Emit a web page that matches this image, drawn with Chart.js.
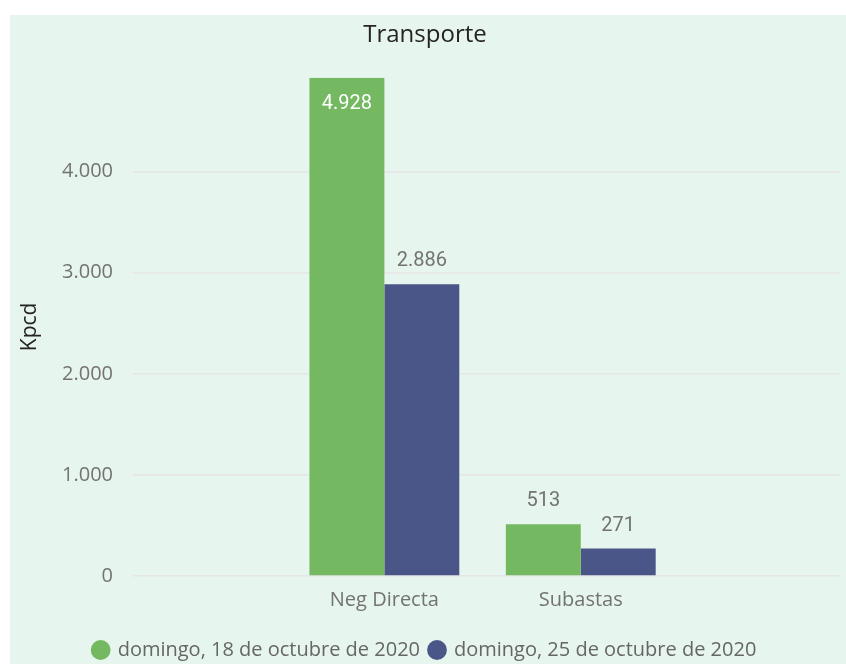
<!DOCTYPE html>
<html lang="es">
<head>
  <meta charset="UTF-8">
  <title>Transporte</title>
  <script src="https://cdn.jsdelivr.net/npm/chart.js"></script>
  <style>
    body { margin: 0; background: #fff; overflow: hidden; }
    .panel { position: absolute; left: 10px; top: 15px; width: 836px; height: 655px; background: #e6f5ed; }
  </style>
</head>
<body>
  <div class="panel"><canvas id="chart" width="836" height="655"></canvas></div>

  <script>
    // datos
    const categorias = ['Neg Directa', 'Subastas'];
    const serie18 = [4928, 513];
    const serie25 = [2886, 271];
    const nombres = ['domingo, 18 de octubre de 2020', 'domingo, 25 de octubre de 2020'];
    const colores = ['#74b862', '#4a5688'];
    const ticksY = [0, 1000, 2000, 3000, 4000];

    // formato con punto de miles
    const fmt = v => String(Math.round(v)).replace(/\B(?=(\d{3})+(?!\d))/g, '.');

    // etiquetas de valor sobre las barras
    const etiquetas = {
      id: 'etiquetas',
      afterDatasetsDraw(chart) {
        const ctx = chart.ctx;
        const top = chart.chartArea.top;
        ctx.save();
        ctx.font = '20px Roboto';
        ctx.textAlign = 'center';
        ctx.textBaseline = 'middle';
        chart.data.datasets.forEach((ds, i) => {
          chart.getDatasetMeta(i).data.forEach((bar, j) => {
            const txt = fmt(ds.data[j].y);
            let y = bar.y - 23;
            if (y - 10 < top) {
              y = bar.y + 26;
              ctx.fillStyle = '#ffffff';
            } else {
              ctx.fillStyle = '#737373';
            }
            ctx.fillText(txt, bar.x, y);
          });
        });
        ctx.restore();
      }
    };

    const toPts = vals => vals.map((v, i) => ({ x: i + 1, y: v }));

    new Chart(document.getElementById('chart'), {
      type: 'bar',
      data: {
        datasets: [
          { label: nombres[0], data: toPts(serie18), backgroundColor: colores[0] },
          { label: nombres[1], data: toPts(serie25), backgroundColor: colores[1] }
        ]
      },
      options: {
        responsive: false,
        animation: false,
        events: [],
        layout: { padding: { left: 0, right: 6, top: 0, bottom: 0 } },
        categoryPercentage: 0.763,
        barPercentage: 1,
        plugins: {
          title: {
            display: true,
            text: 'Transporte',
            color: '#252423',
            font: { family: 'Open Sans', size: 24, weight: 'normal' },
            padding: { top: 6, bottom: 28 }
          },
          legend: {
            position: 'bottom',
            labels: {
              usePointStyle: true,
              pointStyle: 'circle',
              boxWidth: 14,
              boxHeight: 14,
              padding: 10,
              color: '#666666',
              font: { family: 'Open Sans', size: 20 }
            }
          },
          tooltip: { enabled: false }
        },
        scales: {
          x: {
            type: 'linear',
            offset: false,
            min: -0.28,
            max: 3.32,
            grid: { display: false },
            border: { display: false },
            afterBuildTicks: s => { s.ticks = categorias.map((c, i) => ({ value: i + 1 })); },
            afterFit: s => { s.height = 54; },
            ticks: {
              autoSkip: false,
              maxRotation: 0,
              padding: 4,
              color: '#737373',
              font: { family: 'Open Sans', size: 20 },
              callback: v => categorias[v - 1] || ''
            }
          },
          y: {
            min: 0,
            max: Math.max(...serie18, ...serie25),
            afterBuildTicks: s => { s.ticks = ticksY.map(v => ({ value: v })); },
            afterFit: s => { s.width = 123; },
            border: { display: false },
            grid: { color: '#e6e6e6', lineWidth: 1.5, drawTicks: false },
            title: {
              display: true,
              text: 'Kpcd',
              color: '#252423',
              font: { family: 'Open Sans', size: 21 },
              padding: { top: 7, bottom: 0 }
            },
            ticks: {
              padding: 20,
              color: '#737373',
              font: { family: 'Open Sans', size: 20 },
              callback: v => fmt(v)
            }
          }
        }
      },
      plugins: [etiquetas]
    });
  </script>
</body>
</html>
